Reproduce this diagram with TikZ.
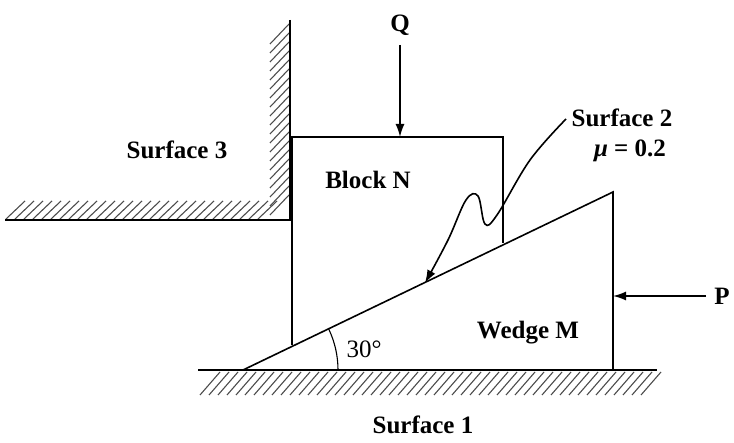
\documentclass[tikz,border=0pt]{standalone}
\usepackage{fontspec}
\setmainfont{Liberation Serif}
\usetikzlibrary{arrows.meta}
\begin{document}
\begin{tikzpicture}[x=1pt,y=-1pt,line width=1.6pt,
  lbl/.style={font=\fontsize{25}{28}\selectfont\bfseries},
  hat/.style={line width=1.1pt,gray!60!black},
  arr/.style={-{Latex[length=13pt,width=9pt]},line width=1.6pt}]
\useasboundingbox (0,0) rectangle (734,443);
% ground
\foreach \x in {200,209,...,645} \draw[hat] (\x,395) -- (\x+20,372);
\draw (198,370) -- (657,370);
% wall
\foreach \y in {24,33,...,200} \draw[hat] (270,\y+20) -- (289,\y);
\foreach \x in {6,15,...,265} \draw[hat] (\x,219) -- (\x+19,201);
\draw (290,20) -- (290,220) -- (5,220);
% wedge
\coordinate (A) at (243,370);
\coordinate (B) at (613,192);
\coordinate (C) at (613,370);
\draw (A) -- (B) -- (C);
% block
\draw (292,345.5) -- (292,137) -- (503,137) -- (503,243);
\node[lbl] (blk) at (368,180) {Block N};
\node[lbl] (wed) at (528,333) {Wedge M};
\draw[line width=1.1pt] (338,370) arc[start angle=0,end angle=-25.7,radius=95];
\node[font=\fontsize{25}{28}\selectfont] (ang) at (364,349) {30°};
% Q
\node[lbl] (q) at (400,25) {Q};
\coordinate (qt) at (400,137);
\draw[arr] (400,45) -- (qt);
% P
\node[lbl] (p) at (722,296) {P};
\coordinate (pt) at (613,296);
\draw[arr] (706,296) -- (pt);
% labels
\node[lbl] (s3) at (177,150) {Surface 3};
\node[lbl] (s1) at (423,425) {Surface 1};
\node[lbl] (s2) at (622,118) {Surface 2};
\node[lbl] (mu) at (630,151) {\itshape μ\upshape{} = 0.2};
\draw[arr] plot[smooth,tension=0.6] coordinates {(566,119) (530,160) (497,215) (485,224) (478,196) (466,200) (448,240) (425,283)};
\end{tikzpicture}
\end{document}
